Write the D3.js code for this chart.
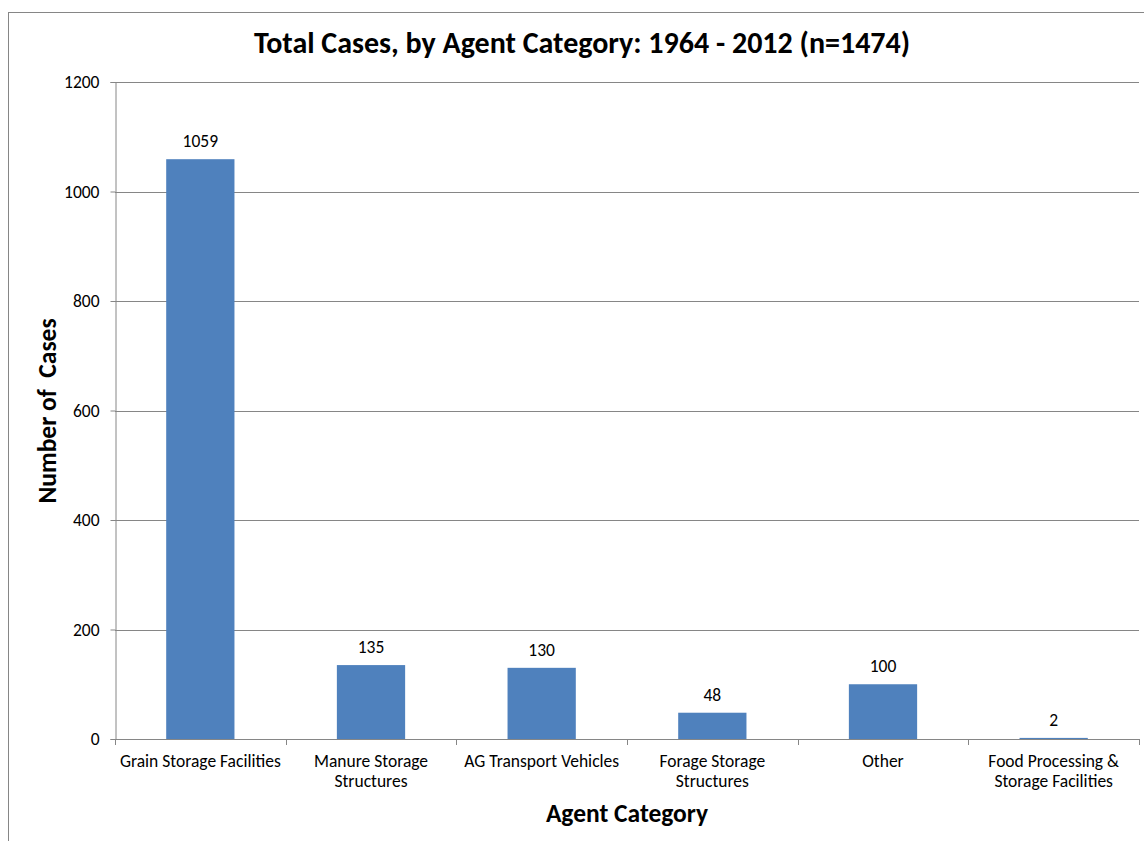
<!DOCTYPE html>
<html>
<head>
<meta charset="utf-8">
<script src="https://cdn.jsdelivr.net/npm/d3@7"></script>
<style>
  body { margin: 0; background: #fff; }
  text { font-family: Calibri, Carlito, Lato, sans-serif; fill: #000; }
</style>
</head>
<body>
<div id="chart_area"></div>
<script>
var categories = [
    ["Grain Storage Facilities"],
    ["Manure Storage", "Structures"],
    ["AG Transport Vehicles"],
    ["Forage Storage", "Structures"],
    ["Other"],
    ["Food Processing &", "Storage Facilities"]
];
var cases = [1059, 135, 130, 48, 100, 2];
var yTicks = [0, 200, 400, 600, 800, 1000, 1200];

function drawBarChart() {
    var width = 1144, height = 841;
    var left = 115, right = 1139, top = 82, bottom = 739;
    var small = 17.5;

    var svg = d3.select("#chart_area")
        .append("svg")
        .attr("width", width)
        .attr("height", height);

    // outer frame
    svg.append("rect")
        .attr("x", 8.5).attr("y", 12.5)
        .attr("width", 1150).attr("height", 850)
        .attr("fill", "none")
        .attr("stroke", "#868686")
        .attr("stroke-width", 1);

    var x = d3.scaleBand()
        .domain(d3.range(categories.length))
        .range([left, right])
        .paddingInner(0.6)
        .paddingOuter(0.3);

    var y = d3.scaleLinear()
        .domain([0, 1200])
        .range([bottom, top]);

    // gridlines
    svg.append("g")
        .selectAll("line")
        .data(yTicks.filter(function (d) { return d > 0; }))
        .enter()
        .append("line")
        .attr("x1", left).attr("x2", right)
        .attr("y1", function (d) { return Math.round(y(d)) + 0.5; })
        .attr("y2", function (d) { return Math.round(y(d)) + 0.5; })
        .attr("stroke", "#868686");

    var yAxis = svg.append("g")
        .attr("transform", "translate(" + (left + 0.5) + ",0)")
        .call(d3.axisLeft(y).tickValues(yTicks).tickFormat(d3.format("d")).tickSize(5).tickPadding(11));
    yAxis.select(".domain").attr("stroke", "#868686");
    yAxis.selectAll(".tick line").attr("stroke", "#868686");
    yAxis.selectAll(".tick text")
        .style("font-size", small + "px")
        .style("font-family", "Calibri, Carlito, Lato, sans-serif")
        .attr("fill", "#000");

    // category axis with boundary ticks
    var bounds = d3.range(categories.length + 1).map(function (i) { return left + i * (right - left) / categories.length; });
    svg.append("line")
        .attr("x1", left).attr("x2", right)
        .attr("y1", bottom + 0.5).attr("y2", bottom + 0.5)
        .attr("stroke", "#868686");
    svg.append("g")
        .selectAll("line")
        .data(bounds)
        .enter()
        .append("line")
        .attr("x1", function (d) { return Math.round(d) + 0.5; })
        .attr("x2", function (d) { return Math.round(d) + 0.5; })
        .attr("y1", bottom).attr("y2", bottom + 6)
        .attr("stroke", "#868686");

    var node = svg.selectAll(".bar")
        .data(cases)
        .enter()
        .append("g")
        .attr("class", "bar");

    node.append("rect")
        .attr("x", function (d, i) { return x(i); })
        .attr("width", x.bandwidth())
        .attr("y", function (d) { return y(d); })
        .attr("height", function (d) { return bottom - y(d); })
        .attr("fill", "#4F81BD");

    node.append("text")
        .attr("x", function (d, i) { return x(i) + x.bandwidth() / 2; })
        .attr("y", function (d) { return y(d) - 12; })
        .attr("text-anchor", "middle")
        .style("font-size", small + "px")
        .text(function (d) { return d; });

    var labels = svg.append("g")
        .selectAll("text")
        .data(categories)
        .enter()
        .append("text")
        .attr("text-anchor", "middle")
        .style("font-size", small + "px")
        .attr("x", function (d, i) { return x(i) + x.bandwidth() / 2; })
        .attr("y", 767);
    labels.selectAll("tspan")
        .data(function (d) { return d; })
        .enter()
        .append("tspan")
        .attr("x", function () { return d3.select(this.parentNode).attr("x"); })
        .attr("dy", function (d, i) { return i === 0 ? 0 : 20; })
        .text(function (d) { return d; });

    svg.append("text")
        .attr("x", 582).attr("y", 53)
        .attr("text-anchor", "middle")
        .style("font-size", "30px")
        .attr("font-weight", "bold")
        .text("Total Cases, by Agent Category: 1964 - 2012 (n=1474)");

    svg.append("text")
        .attr("x", 627).attr("y", 822)
        .attr("text-anchor", "middle")
        .style("font-size", "25.5px")
        .attr("font-weight", "bold")
        .text("Agent Category");

    svg.append("text")
        .attr("transform", "translate(56,411) rotate(-90)")
        .attr("text-anchor", "middle")
        .style("font-size", "25.5px")
        .style("white-space", "pre")
        .attr("font-weight", "bold")
        .text("Number of  Cases");
}

drawBarChart();
</script>
</body>
</html>
